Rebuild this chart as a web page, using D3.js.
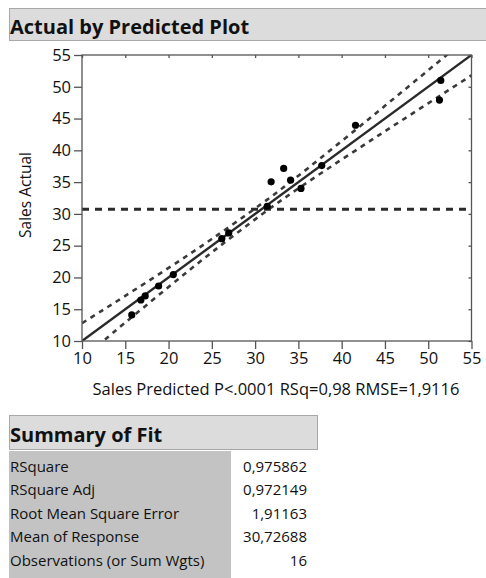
<!DOCTYPE html>
<html>
<head>
<meta charset="utf-8">
<script src="https://cdn.jsdelivr.net/npm/d3@7.9.0/dist/d3.min.js"></script>
<style>
  body { margin: 0; background: #fff; }
  svg { display: block; font-family: "Open Sans", "Noto Sans", sans-serif; }
</style>
</head>
<body>
<svg id="chart" width="486" height="578"></svg>
<script>
// data
const predicted = [15.75, 16.8, 17.3, 18.85, 20.55, 26.15, 26.95, 31.4, 31.85, 33.3, 34.1, 35.3, 37.7, 41.6, 51.45, 51.3];
const actual    = [14.1, 16.45, 17.1, 18.65, 20.45, 26.1, 27.0, 31.2, 35.05, 37.15, 35.3, 34.0, 37.6, 43.95, 51.0, 47.9];
const meanResponse = 30.72688;
// confidence curve half-widths around the fit line
const bandX    = [10, 12.5, 15, 20, 25, 30.7, 35, 40, 45, 50, 55];
const bandHalf = [2.8, 2.45, 2.1, 1.5, 1.05, 0.85, 1.0, 1.45, 2.0, 2.6, 3.2];
const ticks = [10, 15, 20, 25, 30, 35, 40, 45, 50, 55];

const fitLabels = ["RSquare", "RSquare Adj", "Root Mean Square Error", "Mean of Response", "Observations (or Sum Wgts)"];
const fitValues = ["0,975862", "0,972149", "1,91163", "30,72688", "16"];

const svg = d3.select("#chart");

// title bar
svg.append("rect").attr("x", 9.5).attr("y", 8.5).attr("width", 480).attr("height", 32)
  .attr("fill", "#dcdcdc").attr("stroke", "#a8a8a8");
svg.append("text").attr("x", 10).attr("y", 34)
  .attr("font-size", 20).attr("font-weight", "bold").attr("fill", "#111")
  .text("Actual by Predicted Plot");

// plot area
const pLeft = 82, pRight = 471.5, pTop = 55, pBottom = 341;
const x = d3.scaleLinear().domain([10, 55]).range([pLeft, pRight]);
const y = d3.scaleLinear().domain([10, 55]).range([pBottom, pTop]);

svg.append("defs").append("clipPath").attr("id", "clip")
  .append("rect").attr("x", pLeft).attr("y", pTop).attr("width", pRight - pLeft).attr("height", pBottom - pTop);

const plot = svg.append("g").attr("clip-path", "url(#clip)");

// mean line
plot.append("line")
  .attr("x1", x(10)).attr("x2", x(55))
  .attr("y1", y(meanResponse)).attr("y2", y(meanResponse))
  .attr("stroke", "#2a2a2a").attr("stroke-width", 3)
  .attr("stroke-dasharray", "7,6");

// confidence curves
const curve = d3.line().x(d => x(d[0])).y(d => y(d[1])).curve(d3.curveNatural);
[1, -1].forEach(sign => {
  plot.append("path")
    .attr("d", curve(bandX.map((v, i) => [v, v + sign * bandHalf[i]])))
    .attr("fill", "none").attr("stroke", "#3a3a3a").attr("stroke-width", 2.6)
    .attr("stroke-dasharray", "5,5");
});

// fit line
plot.append("line")
  .attr("x1", x(10)).attr("y1", y(10)).attr("x2", x(55)).attr("y2", y(55))
  .attr("stroke", "#2a2a2a").attr("stroke-width", 2.4);

// points
plot.selectAll("circle").data(predicted).join("circle")
  .attr("cx", d => x(d))
  .attr("cy", (d, i) => y(actual[i]))
  .attr("r", 3.6)
  .attr("fill", "#000");

// frame
svg.append("rect").attr("x", pLeft).attr("y", pTop).attr("width", pRight - pLeft).attr("height", pBottom - pTop)
  .attr("fill", "none").attr("stroke", "#555").attr("stroke-width", 1.3);

// axes
svg.append("g").attr("transform", `translate(0,${pBottom})`)
  .call(d3.axisBottom(x).tickValues(ticks).tickSize(8).tickPadding(3));
svg.append("g").attr("transform", `translate(${pLeft},0)`)
  .call(d3.axisLeft(y).tickValues(ticks).tickSize(8).tickPadding(3));
svg.append("g").attr("transform", `translate(0,${pTop})`)
  .call(d3.axisTop(x).tickValues(ticks).tickSize(-3).tickFormat(""));
svg.append("g").attr("transform", `translate(${pRight},0)`)
  .call(d3.axisRight(y).tickValues(ticks).tickSize(-3).tickFormat(""));

svg.selectAll(".domain").remove();
svg.selectAll(".tick line").attr("stroke", "#555").attr("stroke-width", 1.3);
svg.selectAll(".tick text").attr("font-size", 16.5).attr("fill", "#111")
  .attr("font-family", "'Open Sans', 'Noto Sans', sans-serif");

// axis titles
svg.append("text").attr("x", 276).attr("y", 395).attr("text-anchor", "middle")
  .attr("font-size", 16.5).attr("fill", "#111")
  .text("Sales Predicted P<.0001 RSq=0,98 RMSE=1,9116");
svg.append("text").attr("transform", "translate(31,195) rotate(-90)")
  .attr("text-anchor", "middle").attr("font-size", 15.5).attr("fill", "#111")
  .text("Sales Actual");

// summary of fit
svg.append("rect").attr("x", 9.5).attr("y", 415.5).attr("width", 308).attr("height", 34)
  .attr("fill", "#dcdcdc").attr("stroke", "#a8a8a8");
svg.append("text").attr("x", 10).attr("y", 442)
  .attr("font-size", 20).attr("font-weight", "bold").attr("fill", "#111")
  .text("Summary of Fit");

svg.append("rect").attr("x", 9).attr("y", 451).attr("width", 222).attr("height", 127)
  .attr("fill", "#c3c3c3");

const rowY = d3.scaleBand().domain(fitLabels).range([455, 572]);
const rows = svg.append("g").selectAll("g").data(fitLabels).join("g")
  .attr("transform", d => `translate(0,${rowY(d) + rowY.bandwidth() / 2})`);
rows.append("text").attr("x", 10).attr("dy", "0.35em")
  .attr("font-size", 15).attr("fill", "#111").text(d => d);
rows.append("text").attr("x", 307).attr("dy", "0.35em").attr("text-anchor", "end")
  .attr("font-size", 15).attr("fill", "#111").text((d, i) => fitValues[i]);
</script>
</body>
</html>
